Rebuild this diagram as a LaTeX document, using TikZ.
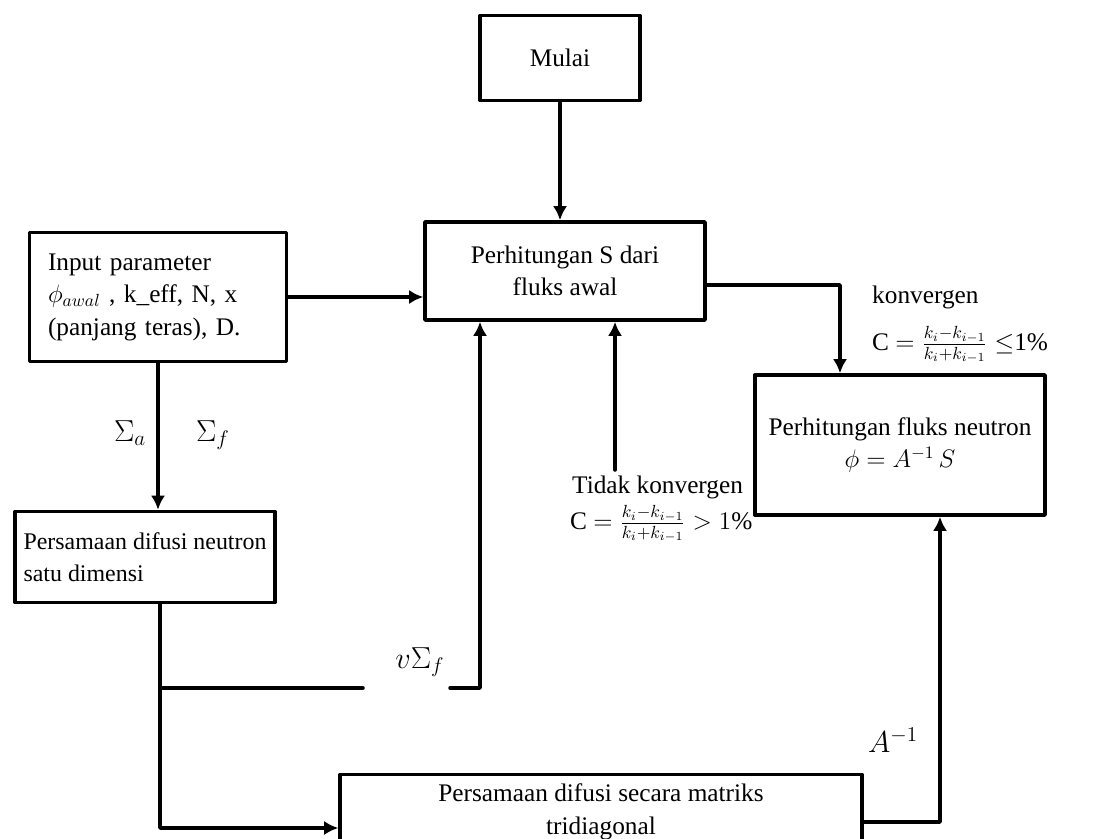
\documentclass[tikz,border=0pt]{standalone}
\usepackage{fontspec}
\setmainfont{Liberation Serif}
\usetikzlibrary{arrows.meta}
\begin{document}
\begin{tikzpicture}[x=0.02cm, y=-0.02cm, line cap=round, line join=round,
    font=\fontsize{14.4}{18.5}\selectfont,
    box/.style={draw, line width=2pt, inner sep=0pt},
    link/.style={line width=2pt},
    arr/.style={link, -{Latex[length=8pt,width=8pt]}},
    big/.style={font=\fontsize{17}{20}\selectfont}]
  \useasboundingbox (0,0) rectangle (1108,838);
  % kotak-kotak
  \node[box, minimum width=3.2cm, minimum height=1.7cm] (mulai) at (560,58) {Mulai};
  \node[box, minimum width=5.6cm, minimum height=1.96cm, align=center] (hitS) at (565,271)
    {Perhitungan S dari\\fluks awal};
  \node[box, minimum width=5.14cm, minimum height=2.58cm, text width=4.4cm, align=left] (input) at (158,297)
    {Input parameter\\$\phi_{awal}$ , k\_eff, N, x\\(panjang teras), D.};
  \node[box, minimum width=5.2cm, minimum height=1.82cm, align=left,
    font=\fontsize{13.6}{18}\selectfont] (difusi) at (145,557)
    {Persamaan difusi neutron\\satu dimensi};
  \node[box, minimum width=5.8cm, minimum height=2.8cm, align=center] (fluks) at (900,445)
    {Perhitungan fluks neutron\\$\phi = A^{-1}\,S$};
  \node[box, minimum width=10.44cm, minimum height=1.5cm, align=center] (matriks) at (601,812)
    {Persamaan difusi secara matriks\\tridiagonal};
  % titik belok
  \coordinate (j1) at (160,688);
  \coordinate (j2) at (160,828);
  \coordinate (j3) at (940,822);
  \coordinate (j4) at (840,285);
  \coordinate (gapL) at (363,688);
  \coordinate (gapR) at (450,688);
  \coordinate (nuUp) at (480,688);
  \coordinate (tk) at (615,470);
  % panah
  \draw[arr] (mulai.south) -- (mulai.south |- hitS.north);
  \draw[arr] (input.east) -- (input.east -| hitS.west);
  \draw[arr] (input.south) -- (input.south |- difusi.north);
  \draw[link] (difusi.south -| j1) -- (j1) -- (gapL);
  \draw[arr] (gapR) -- (nuUp) -- (nuUp |- hitS.south);
  \draw[arr] (j1) -- (j2) -- (j2 -| matriks.west);
  \draw[arr] (j3 -| matriks.east) -- (j3) -- (j3 |- fluks.south);
  \draw[arr] (j4 -| hitS.east) -- (j4) -- (j4 |- fluks.north);
  \draw[arr] (tk) -- (tk |- hitS.south);
  % label
  \node[big] (siga) at (130,433) {$\Sigma_a$};
  \node[big] (sigf) at (213,435) {$\Sigma_f$};
  \node[big] (nusf) at (420,662) {$v\Sigma_f$};
  \node[big] (ainv) at (893,740) {$A^{-1}$};
  \node[anchor=west] (konv) at (866,297) {konvergen};
  \node[anchor=west] (ckonv) at (866,345) {C $=\frac{k_i-k_{i-1}}{k_i+k_{i-1}}\leq$1\%};
  \node[anchor=west] (tdk) at (566,487) {Tidak konvergen};
  \node[anchor=west] (ctdk) at (564,524) {C $=\frac{k_i-k_{i-1}}{k_i+k_{i-1}}>1\%$};
\end{tikzpicture}
\end{document}
